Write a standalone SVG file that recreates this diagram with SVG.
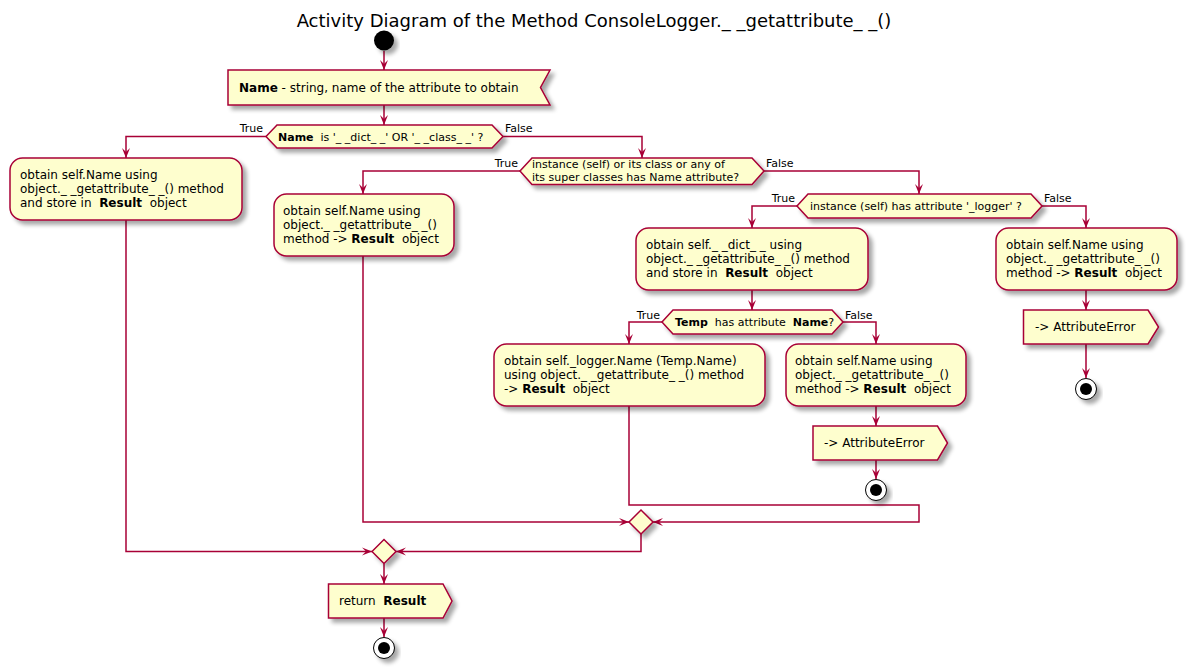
<svg xmlns="http://www.w3.org/2000/svg" width="1187" height="668" viewBox="0 0 1187 668">
<defs>
<filter id="sh" x="-20%" y="-20%" width="150%" height="160%">
<feGaussianBlur in="SourceAlpha" stdDeviation="2"/>
<feOffset dx="4" dy="4" result="o"/>
<feComponentTransfer><feFuncA type="linear" slope="0.35"/></feComponentTransfer>
<feMerge><feMergeNode/><feMergeNode in="SourceGraphic"/></feMerge>
</filter>
<marker id="ar" viewBox="0 0 10 10" refX="10" refY="5" markerWidth="10" markerHeight="10" orient="auto" markerUnits="userSpaceOnUse">
<path d="M0,1 L10,5 L0,9 L4,5 Z" fill="#A80036"/>
</marker>
<style>
.n { fill:#FEFECE; stroke:#A80036; stroke-width:1.5; filter:url(#sh); }
.c { fill:none; stroke:#A80036; stroke-width:1.5; }
.a { marker-end:url(#ar); }
text { font-family:"DejaVu Sans", "Liberation Sans", sans-serif; font-size:12px; fill:#000; white-space:pre; }
.s { font-size:11px; }
.b { font-weight:bold; }
.title { font-size:18px; }
</style>
</defs>
<rect width="1187" height="668" fill="#fff"/>
<text class="title" x="594" y="27" text-anchor="middle">Activity Diagram of the Method ConsoleLogger._ _getattribute_ _()</text>

<g id="connectors">
<path class="c a" d="M384,51 L384,70"/>
<path class="c a" d="M384,105 L384,125"/>
<path class="c a" d="M266,136.5 L126,136.5 L126,158"/>
<path class="c a" d="M503,136.5 L642,136.5 L642,158"/>
<path class="c a" d="M520,171 L363,171 L363,194"/>
<path class="c a" d="M764,171 L919,171 L919,194"/>
<path class="c a" d="M797,206 L752,206 L752,228"/>
<path class="c a" d="M1042,206 L1086,206 L1086,228"/>
<path class="c a" d="M752,290 L752,310"/>
<path class="c a" d="M662,322 L629,322 L629,344"/>
<path class="c a" d="M843,322 L876,322 L876,344"/>
<path class="c a" d="M876,406 L876,426"/>
<path class="c a" d="M876,460 L876,479"/>
<path class="c a" d="M1086,290 L1086,310"/>
<path class="c a" d="M1086,344 L1086,378"/>
<path class="c a" d="M629,406 L629,505 L919,505 L919,522 L653,522"/>
<path class="c a" d="M363,256 L363,522 L629,522"/>
<path class="c a" d="M641,534 L641,551.5 L396,551.5"/>
<path class="c a" d="M126,220 L126,551.5 L372,551.5"/>
<path class="c a" d="M384,563.5 L384,584"/>
<path class="c a" d="M384,618 L384,637"/>
<text class="s" x="263" y="132" text-anchor="end">True</text>
<text class="s" x="505" y="132">False</text>
<text class="s" x="518" y="167" text-anchor="end">True</text>
<text class="s" x="766" y="167">False</text>
<text class="s" x="795" y="202" text-anchor="end">True</text>
<text class="s" x="1044" y="202">False</text>
<text class="s" x="660" y="319" text-anchor="end">True</text>
<text class="s" x="845" y="319">False</text>
</g>

<g id="start">
<circle cx="384" cy="40.5" r="10" fill="#000" filter="url(#sh)"/>
</g>

<g id="input-name">
<polygon class="n" points="228,70 550,70 540.5,87.5 550,105 228,105"/>
<text x="239" y="92"><tspan class="b">Name</tspan> - string, name of the attribute to obtain</text>
</g>

<g id="decision-name">
<polygon class="n" points="266,136.5 277,125 492,125 503,136.5 492,148 277,148"/>
<text class="s" x="278" y="140.5"><tspan class="b">Name</tspan>  is '_ _dict_ _' OR '_ _class_ _' ?</text>
</g>

<g id="box-getattr-1">
<rect class="n" x="10" y="158" width="232" height="62" rx="12.5" ry="12.5"/>
<text x="20" y="179">obtain self.Name using</text>
<text x="20" y="193">object._ _getattribute_ _() method</text>
<text x="20" y="207">and store in  <tspan class="b">Result</tspan>  object</text>
</g>

<g id="decision-has-attr">
<polygon class="n" points="520,171 532,158 752,158 764,171 752,184.5 532,184.5"/>
<text class="s" x="532" y="168">instance (self) or its class or any of</text>
<text class="s" x="532" y="181">its super classes has Name attribute?</text>
</g>

<g id="box-getattr-2">
<rect class="n" x="274" y="194" width="180" height="62" rx="12.5" ry="12.5"/>
<text x="283" y="215">obtain self.Name using</text>
<text x="283" y="229">object._ _getattribute_ _()</text>
<text x="283" y="243">method -&gt; <tspan class="b">Result</tspan>  object</text>
</g>

<g id="decision-logger">
<polygon class="n" points="797,206 808,194 1031,194 1042,206 1031,218 808,218"/>
<text class="s" x="810" y="210">instance (self) has attribute '_logger' ?</text>
</g>

<g id="box-dict">
<rect class="n" x="636" y="228" width="232" height="62" rx="12.5" ry="12.5"/>
<text x="646" y="249">obtain self._ _dict_ _ using</text>
<text x="646" y="263">object._ _getattribute_ _() method</text>
<text x="646" y="277">and store in  <tspan class="b">Result</tspan>  object</text>
</g>

<g id="box-getattr-4">
<rect class="n" x="996" y="228" width="181" height="62" rx="12.5" ry="12.5"/>
<text x="1006" y="249">obtain self.Name using</text>
<text x="1006" y="263">object._ _getattribute_ _()</text>
<text x="1006" y="277">method -&gt; <tspan class="b">Result</tspan>  object</text>
</g>

<g id="decision-temp">
<polygon class="n" points="662,322 673,310 832,310 843,322 832,334 673,334"/>
<text class="s" x="675" y="326"><tspan class="b">Temp</tspan>  has attribute  <tspan class="b">Name</tspan>?</text>
</g>

<g id="box-logger-name">
<rect class="n" x="494" y="344" width="271" height="62" rx="12.5" ry="12.5"/>
<text x="504" y="365">obtain self._logger.Name (Temp.Name)</text>
<text x="504" y="379">using object._ _getattribute_ _() method</text>
<text x="504" y="393">-&gt; <tspan class="b">Result</tspan>  object</text>
</g>

<g id="box-getattr-6">
<rect class="n" x="786" y="344" width="180" height="62" rx="12.5" ry="12.5"/>
<text x="795" y="365">obtain self.Name using</text>
<text x="795" y="379">object._ _getattribute_ _()</text>
<text x="795" y="393">method -&gt; <tspan class="b">Result</tspan>  object</text>
</g>

<g id="send-error-1">
<polygon class="n" points="813,426 937.5,426 947.5,443 937.5,460 813,460"/>
<text x="824" y="447">-&gt; AttributeError</text>
</g>

<g id="stop-1">
<circle cx="876" cy="490" r="10.5" fill="#fff" stroke="#000" stroke-width="1" filter="url(#sh)"/>
<circle cx="876" cy="490" r="6" fill="#000"/>
</g>

<g id="send-error-2">
<polygon class="n" points="1023.5,310 1148,310 1158.5,327 1148,344 1023.5,344"/>
<text x="1035" y="331">-&gt; AttributeError</text>
</g>

<g id="stop-2">
<circle cx="1086" cy="389" r="10.5" fill="#fff" stroke="#000" stroke-width="1" filter="url(#sh)"/>
<circle cx="1086" cy="389" r="6" fill="#000"/>
</g>

<g id="merge-a">
<polygon class="n" points="629,522 641,510 653,522 641,534"/>
</g>

<g id="merge-b">
<polygon class="n" points="372,551.5 384,539.5 396,551.5 384,563.5"/>
</g>

<g id="return-result">
<polygon class="n" points="328.5,584 443,584 452,601 443,618 328.5,618"/>
<text x="339" y="605">return  <tspan class="b">Result</tspan></text>
</g>

<g id="stop-3">
<circle cx="384" cy="648" r="10.5" fill="#fff" stroke="#000" stroke-width="1" filter="url(#sh)"/>
<circle cx="384" cy="648" r="6" fill="#000"/>
</g>
</svg>
